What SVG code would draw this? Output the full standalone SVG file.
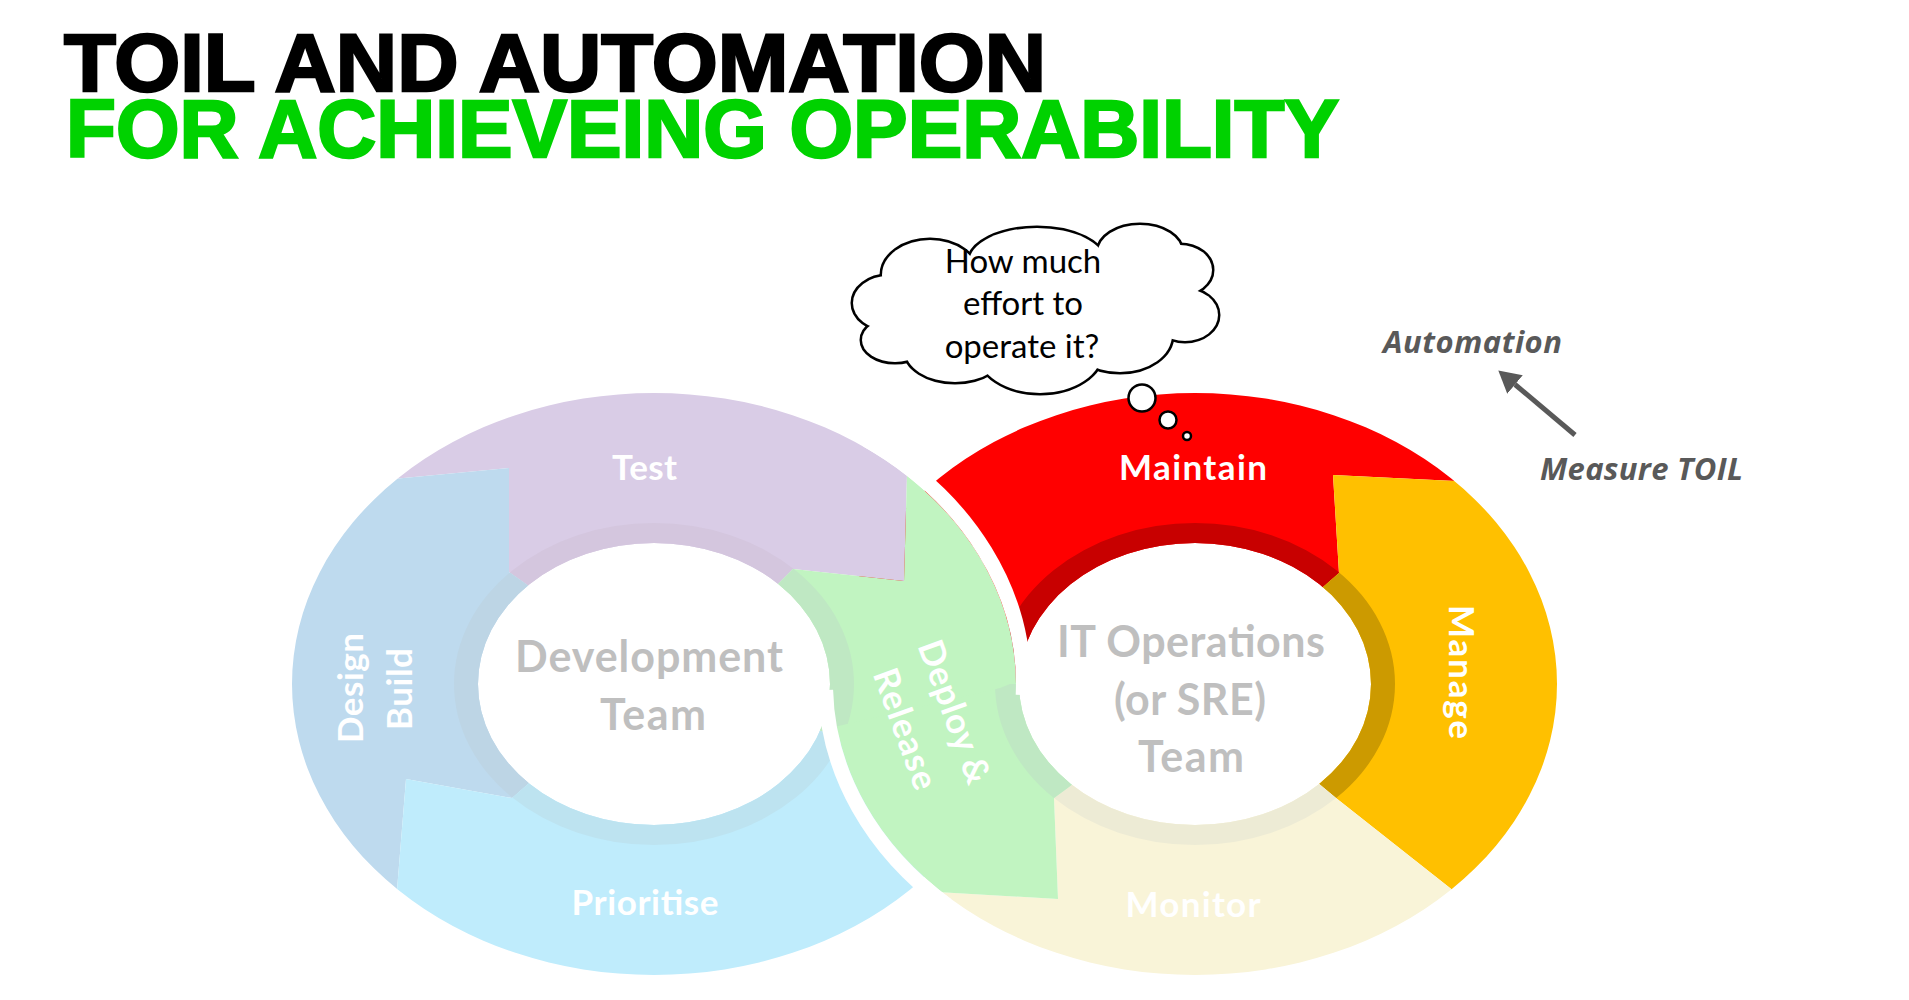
<svg xmlns="http://www.w3.org/2000/svg" xmlns:xlink="http://www.w3.org/1999/xlink" width="1909" height="1000" viewBox="0 0 1909 1000">
  <style>
    .title { font-family: "Liberation Sans", Arial, sans-serif; font-weight: 700; font-size: 81px; }
    .seg { font-family: Lato, "Open Sans", "Liberation Sans", sans-serif; font-weight: 700; font-size: 35px; fill: #ffffff; text-anchor: middle; }
    .team { font-family: Lato, "Open Sans", "Liberation Sans", sans-serif; font-weight: 700; font-size: 43px; fill: #bfbfbf; text-anchor: middle; }
    .think { font-family: Lato, "Open Sans", "Liberation Sans", sans-serif; font-weight: 400; font-size: 33px; fill: #000000; text-anchor: middle; }
    .note { font-family: "Open Sans", "Liberation Sans", sans-serif; font-weight: 700; font-style: italic; font-size: 31px; fill: #595959; }
    .gap { fill: none; stroke: #ffffff; stroke-width: 15; }
    .bubble { fill: #ffffff; stroke: #000000; stroke-width: 2.5; }
  </style>
  <defs>
    <!-- ring areas: outer ellipse minus hole, and the darker inner band -->
    <clipPath id="annL"><path clip-rule="evenodd" d="M292,684 a362,291 0 1,0 724,0 a362,291 0 1,0 -724,0 Z M478,684 a176,141 0 1,0 352,0 a176,141 0 1,0 -352,0 Z"/></clipPath>
    <clipPath id="bandL"><path clip-rule="evenodd" d="M454,684 a200,161 0 1,0 400,0 a200,161 0 1,0 -400,0 Z M478,684 a176,141 0 1,0 352,0 a176,141 0 1,0 -352,0 Z"/></clipPath>
    <clipPath id="annR"><path clip-rule="evenodd" d="M833,684 a362,291 0 1,0 724,0 a362,291 0 1,0 -724,0 Z M1019,684 a176,141 0 1,0 352,0 a176,141 0 1,0 -352,0 Z"/></clipPath>
    <clipPath id="bandR"><path clip-rule="evenodd" d="M995,684 a200,161 0 1,0 400,0 a200,161 0 1,0 -400,0 Z M1019,684 a176,141 0 1,0 352,0 a176,141 0 1,0 -352,0 Z"/></clipPath>
    <!-- lower crossing, where the ops ring passes over the dev ring -->
    <clipPath id="crossLow"><polygon points="700,1000 700,730 830,728 1000,688 1010,684 1100,684 1100,1000"/></clipPath>

    <!-- segment wedges (clipped to the ring areas when used) -->
    <polygon id="pTest" points="654,684 526,584 509,572 509,468 393,479 250,493 250,300 910,300 907,475 904,581 793,569 778,584"/>
    <polygon id="pDesign" points="654,684 526,584 509,572 509,468 393,479 250,493 250,1000 388,1000 397,890 406,779 512,798 528,784"/>
    <polygon id="pPrior" points="654,684 528,784 512,798 406,779 397,890 388,1000 1100,1000 1100,809"/>
    <polygon id="pGreenL" points="654,684 778,584 793,569 904,581 907,475 910,300 1100,300 1100,809"/>
    <polygon id="pMaint" points="1195,684 1323,587 1339,573 1333,475 1455,481 1600,488 1600,300 800,300 800,684"/>
    <polygon id="pManage" points="1195,684 1323,587 1339,573 1333,475 1455,481 1600,488 1600,1000 1592,1000 1336,798 1318,783"/>
    <polygon id="pMonitor" points="1195,684 1318,783 1336,798 1592,1000 800,1000 800,884 937,892 1058,899 1054,798 1069,787"/>
    <polygon id="pGreenR" points="1195,684 1069,787 1054,798 1058,899 937,892 800,884 800,684"/>

    <g id="cloudBumps">
      <ellipse cx="888" cy="303" rx="35" ry="27"/>
      <ellipse cx="895" cy="340" rx="33" ry="22"/>
      <ellipse cx="955" cy="350" rx="50" ry="32"/>
      <ellipse cx="1040" cy="352" rx="62" ry="41"/>
      <ellipse cx="1120" cy="335" rx="52" ry="37"/>
      <ellipse cx="1185" cy="315" rx="33" ry="26"/>
      <ellipse cx="1180" cy="270" rx="32" ry="25"/>
      <ellipse cx="1140" cy="252" rx="42" ry="27"/>
      <ellipse cx="1037" cy="262" rx="68" ry="34"/>
      <ellipse cx="930" cy="275" rx="48" ry="35"/>
    </g>

    <marker id="head" markerUnits="userSpaceOnUse" markerWidth="22" markerHeight="24" viewBox="0 0 20 22" refX="0" refY="11" orient="auto">
      <path d="M0,0 L20,11 L0,22 Z" fill="#595959"/>
    </marker>
  </defs>

  <rect width="1909" height="1000" fill="#ffffff"/>

  <!-- title -->
  <g id="title">
    <text class="title" x="64" y="91" textLength="982" lengthAdjust="spacingAndGlyphs" fill="#000000" stroke="#000000" stroke-width="2.5">TOIL AND AUTOMATION</text>
    <text class="title" x="66" y="157" textLength="1273" lengthAdjust="spacingAndGlyphs" fill="#00d200" stroke="#00d200" stroke-width="2.5">FOR ACHIEVEING OPERABILITY</text>
  </g>

  <!-- IT operations ring -->
  <g id="seg-maintain">
    <use href="#pMaint" clip-path="url(#annR)" fill="#ff0000"/>
    <use href="#pMaint" clip-path="url(#bandR)" fill="#c80000"/>
    <text class="seg" x="1193" y="480" textLength="148">Maintain</text>
  </g>
  <g id="seg-manage">
    <use href="#pManage" clip-path="url(#annR)" fill="#ffc000"/>
    <use href="#pManage" clip-path="url(#bandR)" fill="#cc9a00"/>
    <text class="seg" transform="translate(1449,672) rotate(90)" x="0" y="0" textLength="134">Manage</text>
  </g>
  <g id="seg-monitor">
    <use href="#pMonitor" clip-path="url(#annR)" fill="#f9f4d8"/>
    <use href="#pMonitor" clip-path="url(#bandR)" fill="#edebd5"/>
    <text class="seg" x="1193" y="917" textLength="135">Monitor</text>
  </g>

  <!-- development ring -->
  <g id="seg-test">
    <use href="#pTest" clip-path="url(#annL)" fill="#d9cce6"/>
    <use href="#pTest" clip-path="url(#bandL)" fill="#d4c6de"/>
    <text class="seg" x="644.5" y="480" textLength="65">Test</text>
  </g>
  <g id="seg-design">
    <use href="#pDesign" clip-path="url(#annL)" fill="#bedaee"/>
    <use href="#pDesign" clip-path="url(#bandL)" fill="#bdd5e5"/>
    <text class="seg" transform="translate(363,688) rotate(-90)" x="0" y="0" textLength="110">Design</text>
    <text class="seg" transform="translate(412,689) rotate(-90)" x="0" y="0" textLength="82">Build</text>
  </g>
  <g id="seg-prioritise">
    <use href="#pPrior" clip-path="url(#annL)" fill="#bfecfc"/>
    <use href="#pPrior" clip-path="url(#bandL)" fill="#bde3f0"/>
    <text class="seg" x="645" y="915" textLength="147">Prioritise</text>
  </g>

  <!-- crossing segment shared by both rings -->
  <g id="seg-deploy">
    <use href="#pGreenL" clip-path="url(#annL)" fill="#c1f4c1"/>
    <use href="#pGreenL" clip-path="url(#bandL)" fill="#bfe8c3"/>
    <g clip-path="url(#crossLow)">
      <use href="#pGreenR" clip-path="url(#annR)" fill="#c1f4c1"/>
      <use href="#pGreenR" clip-path="url(#bandR)" fill="#bfe8c3"/>
    </g>
    <text class="seg" transform="translate(943,716) rotate(70)" x="0" y="0" textLength="150">Deploy &amp;</text>
    <text class="seg" transform="translate(894,733) rotate(70)" x="0" y="0" textLength="126">Release</text>
  </g>

  <!-- white separations where one ring passes over the other -->
  <g id="ring-gaps">
    <path class="gap" d="M866.9,440 A369.5,298.5 0 0 1 1023.2,695"/>
    <path class="gap" d="M825.6,690 A369.5,298.5 0 0 0 946.6,905"/>
  </g>

  <!-- team names in the ring centres -->
  <g id="team-dev">
    <text class="team" x="649" y="672" textLength="268">Development</text>
    <text class="team" x="653" y="730" textLength="106">Team</text>
  </g>
  <g id="team-ops">
    <text class="team" x="1191" y="657" textLength="268">IT Operations</text>
    <text class="team" x="1190" y="715" textLength="152">(or SRE)</text>
    <text class="team" x="1191" y="772" textLength="106">Team</text>
  </g>

  <!-- thought cloud over Maintain -->
  <g id="thought">
    <use href="#cloudBumps" fill="#ffffff" stroke="#000000" stroke-width="5"/>
    <use href="#cloudBumps" fill="#ffffff"/>
    <ellipse cx="1035" cy="305" rx="140" ry="50" fill="#ffffff"/>
    <text class="think" x="1023" y="273">How much</text>
    <text class="think" x="1023" y="315">effort to</text>
    <text class="think" x="1022" y="358">operate it?</text>
    <circle class="bubble" cx="1142" cy="398" r="13.5"/>
    <circle class="bubble" cx="1168" cy="420" r="8.5"/>
    <circle class="bubble" cx="1187" cy="436" r="4"/>
  </g>

  <g id="note-automation">
    <text class="note" x="1383" y="353" textLength="179">Automation</text>
  </g>
  <g id="note-toil">
    <text class="note" x="1540" y="480" textLength="203">Measure TOIL</text>
  </g>

  <g id="connectors">
    <line x1="1575" y1="435" x2="1515" y2="384.5" stroke="#595959" stroke-width="5" marker-end="url(#head)"/>
  </g>
</svg>
